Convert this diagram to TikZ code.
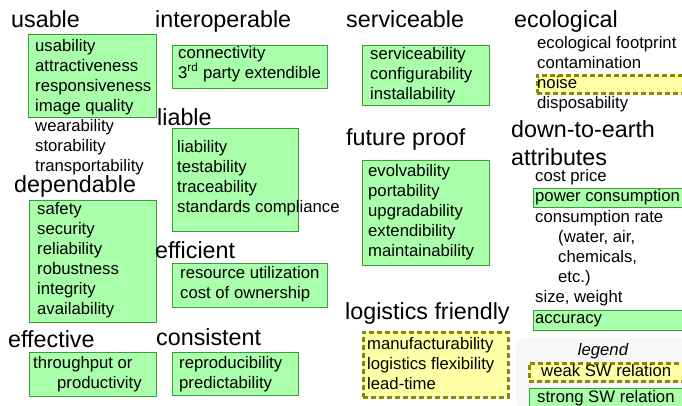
\documentclass[tikz,border=0pt]{standalone}
\usepackage{fontspec}
\setmainfont{Liberation Sans}
\definecolor{gfill}{HTML}{AAFFAA}
\definecolor{gline}{HTML}{3A9F3A}
\definecolor{yfill}{HTML}{FFFFA6}
\definecolor{yline}{HTML}{8A8A00}
\begin{document}
\begin{tikzpicture}[x=1pt,y=-1pt,
  title/.style={font=\fontsize{23.3}{26}\selectfont, anchor=base west, inner sep=0pt},
  item/.style={font=\fontsize{16.7}{20}\selectfont, anchor=base west, inner sep=0pt},
  gbox/.style={draw=gline, fill=gfill, line width=1pt, anchor=north west, inner sep=0pt},
  ybox/.style={draw=yline, fill=yfill, line width=2.6pt, dash pattern=on 5pt off 3pt, anchor=north west, inner sep=0pt}]
\useasboundingbox (0,0) rectangle (682,405);
% legend glow
\fill[black!3, rounded corners=10pt] (516,338) rectangle (690,410);
% ---- column 1
\node[title] (tUsable) at (11,27) {usable};
\node[gbox, minimum width=128pt, minimum height=83pt] (bUsable) at (28,34) {};
\node[item] (u1) at (35,51) {usability};
\node[item] (u2) at (35,71) {attractiveness};
\node[item] (u3) at (35,91) {responsiveness};
\node[item] (u4) at (35,111) {image quality};
\node[item] (u5) at (35,131) {wearability};
\node[item] (u6) at (35,151) {storability};
\node[item] (u7) at (35,171) {transportability};
\node[title] (tDep) at (14,192) {dependable};
\node[gbox, minimum width=127pt, minimum height=122pt] (bDep) at (29,200) {};
\node[item] (d1) at (37,214) {safety};
\node[item] (d2) at (37,234) {security};
\node[item] (d3) at (37,254) {reliability};
\node[item] (d4) at (37,274) {robustness};
\node[item] (d5) at (37,294) {integrity};
\node[item] (d6) at (37,314) {availability};
\node[title] (tEff) at (8,347) {effective};
\node[gbox, minimum width=127pt, minimum height=44pt] (bEff) at (29,352) {};
\node[item] (e1) at (33,368) {throughput or};
\node[item] (e2) at (57,388) {productivity};
% ---- column 2
\node[title] (tInter) at (155,27) {interoperable};
\node[gbox, minimum width=155pt, minimum height=43pt] (bInter) at (172,45) {};
\node[item] (i1) at (178,58) {connectivity};
\node[item] (i2) at (178,78) {3\textsuperscript{rd} party extendible};
\node[title] (tLiable) at (157,125) {liable};
\node[gbox, minimum width=126pt, minimum height=103pt] (bLiable) at (172,128) {};
\node[item] (l1) at (177,152) {liability};
\node[item] (l2) at (177,172) {testability};
\node[item] (l3) at (177,192) {traceability};
\node[item] (l4) at (177,212) {standards compliance};
\node[title] (tEffi) at (155,258) {efficient};
\node[gbox, minimum width=155pt, minimum height=44pt] (bEffi) at (172,263) {};
\node[item] (f1) at (180,278) {resource utilization};
\node[item] (f2) at (180,298) {cost of ownership};
\node[title] (tCons) at (156,345) {consistent};
\node[gbox, minimum width=126pt, minimum height=43pt] (bCons) at (172,352) {};
\node[item] (c1) at (179,368) {reproducibility};
\node[item] (c2) at (179,388) {predictability};
% ---- column 3
\node[title] (tServ) at (346,27) {serviceable};
\node[gbox, minimum width=127pt, minimum height=60pt] (bServ) at (362,45) {};
\node[item] (s1) at (370,59) {serviceability};
\node[item] (s2) at (370,79) {configurability};
\node[item] (s3) at (370,99) {installability};
\node[title] (tFut) at (346,145) {future proof};
\node[gbox, minimum width=127pt, minimum height=105pt] (bFut) at (362,160) {};
\node[item] (p1) at (368,176) {evolvability};
\node[item] (p2) at (368,196) {portability};
\node[item] (p3) at (368,216) {upgradability};
\node[item] (p4) at (368,236) {extendibility};
\node[item] (p5) at (368,256) {maintainability};
\node[title] (tLog) at (345,319) {logistics friendly};
\node[ybox, minimum width=145pt, minimum height=65pt] (bLog) at (362,331) {};
\node[item] (g1) at (367,349) {manufacturability};
\node[item] (g2) at (367,369) {logistics flexibility};
\node[item] (g3) at (367,389) {lead-time};
% ---- column 4
\node[title] (tEco) at (514,27) {ecological};
\node[item] (o1) at (537,48) {ecological footprint};
\node[item] (o2) at (537,68) {contamination};
\node[ybox, minimum width=148pt, minimum height=18pt] (bNoise) at (536,74) {};
\node[item] (o3) at (537,88) {noise};
\node[item] (o4) at (537,108) {disposability};
\node[title] (tDown) at (511,137) {down-to-earth};
\node[title] (tAttr) at (511,165) {attributes};
\node[item] (a1) at (535,181) {cost price};
\node[gbox, minimum width=152pt, minimum height=19pt] (bPow) at (533,188) {};
\node[item] (a2) at (535,201) {power consumption};
\node[item] (a3) at (535,222) {consumption rate};
\node[item] (a4) at (558,242) {(water, air,};
\node[item] (a5) at (558,262) {chemicals,};
\node[item] (a6) at (558,282) {etc.)};
\node[item] (a7) at (535,302) {size, weight};
\node[gbox, minimum width=152pt, minimum height=20pt] (bAcc) at (533,310) {};
\node[item] (a8) at (535,323) {accuracy};
% legend
\node[item, anchor=base, font=\fontsize{16.7}{20}\selectfont\itshape] (leg) at (603,355) {legend};
\node[ybox, minimum width=158pt, minimum height=18pt] (bWeak) at (528,362) {};
\node[item] (w1) at (541,376) {weak SW relation};
\node[gbox, minimum width=156pt, minimum height=22pt] (bStrong) at (529,388) {};
\node[item] (w2) at (537,402) {strong SW relation};
\end{tikzpicture}
\end{document}
